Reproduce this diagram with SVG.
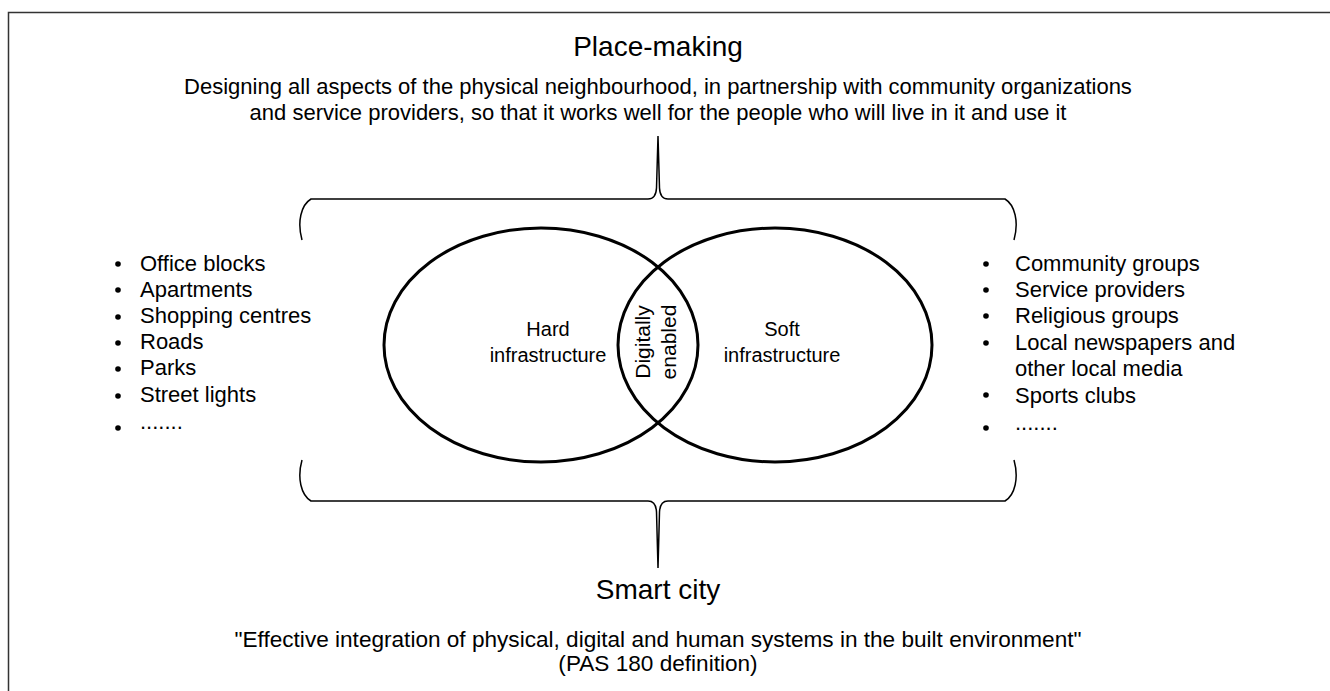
<svg xmlns="http://www.w3.org/2000/svg" width="1330" height="691" viewBox="0 0 1330 691">
<style>
text{font-family:"Liberation Sans",Arial,sans-serif;fill:#000}
.t{font-size:28px;text-anchor:middle}
.d{font-size:22px;text-anchor:middle}
.q{font-size:22.6px;text-anchor:middle}
.l{font-size:22px}
.c{font-size:20px;text-anchor:middle}
.v{font-size:21px;text-anchor:middle}
.ell{fill:none;stroke:#000;stroke-width:3}
.br{fill:none;stroke:#000;stroke-width:1.5}
</style>
<g id="frame"><path d="M8.5 691 V12.5 H1330" fill="none" stroke="#333" stroke-width="1.5"/></g>
<g id="place-making">
<text class="t" x="658" y="56">Place-making</text>
<text class="d" x="658" y="94">Designing all aspects of the physical neighbourhood, in partnership with community organizations</text>
<text class="d" x="658" y="120">and service providers, so that it works well for the people who will live in it and use it</text>
</g>
<g id="connectors">
<path class="br" d="M302 240 C297 222 301 205 311 199 L648 199 Q656 199 656.5 188 L658 136 L659.5 188 Q660 199 668 199 L1005 199 C1015 205 1019 222 1014 240"/>
<path class="br" d="M302 460 C297 478 301 495 311 501 L648 501 Q656 501 656.5 512 L658 568 L659.5 512 Q660 501 668 501 L1005 501 C1015 495 1019 478 1014 460"/>
</g>
<g id="hard"><ellipse class="ell" cx="541" cy="345" rx="157" ry="117"/>
<text class="c" x="548" y="336">Hard</text><text class="c" x="548" y="362">infrastructure</text></g>
<g id="soft"><ellipse class="ell" cx="775" cy="345" rx="157" ry="117"/>
<text class="c" x="782" y="336">Soft</text><text class="c" x="782" y="362">infrastructure</text></g>
<g id="digital"><g transform="translate(658 342) rotate(-90)">
<text class="v" x="0" y="-8">Digitally</text><text class="v" x="0" y="18">enabled</text></g></g>
<g id="hard-list">
<g fill="#000"><circle cx="118" cy="264" r="2.8"/><circle cx="118" cy="290" r="2.8"/><circle cx="118" cy="317" r="2.8"/><circle cx="118" cy="343" r="2.8"/><circle cx="118" cy="369" r="2.8"/><circle cx="118" cy="396" r="2.8"/><circle cx="118" cy="428" r="2.8"/></g>
<text class="l" x="140" y="271">Office blocks</text>
<text class="l" x="140" y="297">Apartments</text>
<text class="l" x="140" y="323">Shopping centres</text>
<text class="l" x="140" y="349">Roads</text>
<text class="l" x="140" y="375">Parks</text>
<text class="l" x="140" y="402">Street lights</text>
<text class="l" x="140" y="429">.......</text>
</g>
<g id="soft-list">
<g fill="#000"><circle cx="986" cy="264" r="2.8"/><circle cx="986" cy="290" r="2.8"/><circle cx="986" cy="316" r="2.8"/><circle cx="986" cy="343" r="2.8"/><circle cx="986" cy="395" r="2.8"/><circle cx="986" cy="428" r="2.8"/></g>
<text class="l" x="1015" y="271">Community groups</text>
<text class="l" x="1015" y="297">Service providers</text>
<text class="l" x="1015" y="323">Religious groups</text>
<text class="l" x="1015" y="350">Local newspapers and</text>
<text class="l" x="1015" y="376">other local media</text>
<text class="l" x="1015" y="403">Sports clubs</text>
<text class="l" x="1015" y="430">.......</text>
</g>
<g id="smart-city">
<text class="t" x="658" y="599">Smart city</text>
<text class="q" x="658" y="647">"Effective integration of physical, digital and human systems in the built environment"</text>
<text class="q" x="658" y="671">(PAS 180 definition)</text>
</g>
</svg>
